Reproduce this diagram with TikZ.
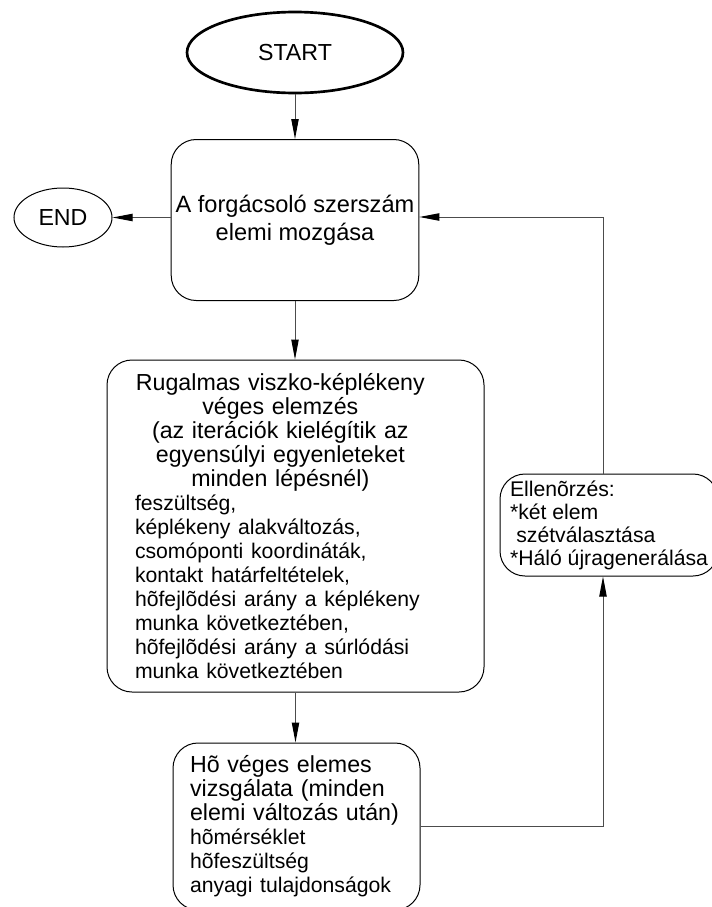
\documentclass[tikz,border=0pt]{standalone}
\usepackage{fontspec}
\setmainfont{Liberation Sans}
\usetikzlibrary{shapes.geometric,arrows.meta}
\setlength{\parindent}{0pt}
\def\bigtxt{\fontsize{17.4}{18}\selectfont}
\def\smalltxt{\fontsize{15.9}{18}\selectfont}
\tikzset{
	box/.style={draw=black, line width=0.75pt, rectangle, rounded corners=18.75pt},
	oval/.style={draw=black, ellipse, inner sep=0pt, font=\bigtxt},
	arr/.style={draw=black!70, line width=0.75pt, -{Triangle[length=15pt,width=5.5pt,black]}}
}

\begin{document}
\begin{tikzpicture}[x=0.75pt, y=-0.75pt]
		%%%%% START %%%%%
		\useasboundingbox (0, 0) rectangle (711, 907);
		
		\node[oval, line width=2pt, minimum width=162pt, minimum height=60.75pt] (start) at (295, 52.5) {START};
		\node[oval, line width=0.75pt, minimum width=73.5pt, minimum height=44.25pt] (stop) at (63, 217.5) {END};
		
		\node[box, align=center, minimum width=184.5pt, minimum height=120.75pt, font=\fontsize{17.7}{21}\selectfont] (move) at (295, 220) {A forgácsoló szerszám\\elemi mozgása};
		
		\node[box, align=left, text width=240.75pt, inner xsep=21pt, minimum height=249pt, font=\bigtxt] (fem) at (295.5, 526) {\hspace*{-2pt}\parbox[b]{222pt}{\centering\bigtxt
			Rugalmas viszko-képlékeny\\véges elemzés\\(az iterációk kielégítik az\\egyensúlyi egyenleteket\\minden lépésnél)}\par
			\smalltxt feszültség,\\képlékeny alakváltozás,\\csomóponti koordináták,\\kontakt határfeltételek,\\hõfejlõdési arány a képlékeny\\munka következtében,\\hõfejlõdési arány a súrlódási\\munka következtében};
		
		\node[box, align=left, text width=159.75pt, inner xsep=12.75pt, minimum height=125.25pt, font=\bigtxt] (heat) at (296.5, 826.5) {Hõ véges elemes\\vizsgálata (minden\\elemi változás után)\\\smalltxt hõmérséklet\\hõfeszültség\\anyagi tulajdonságok};
		
		\node[box, align=left, minimum width=163.5pt, minimum height=76.5pt, font=\fontsize{15.9}{17.25}\selectfont] (check) at (609, 525) {Ellenõrzés:\\{*}két elem\\\hspace*{0.3em}szétválasztása\\{*}Háló újragenerálása};
		
		\coordinate (loop) at (603, 217);
		
		\draw[arr] (start) -- (move);
		\draw[arr] (move.west |- stop) -- (stop);
		\draw[arr] (move) -- (move |- fem.north);
		\draw[arr] (fem.south) -- (fem.south |- heat.north);
		\draw[arr] (heat.east) -| (loop |- check.south);
		\draw[arr] (loop |- check.north) -- (loop) -- (move.east |- loop);
		
		%%%%% END %%%%%
	\end{tikzpicture}
\end{document}
